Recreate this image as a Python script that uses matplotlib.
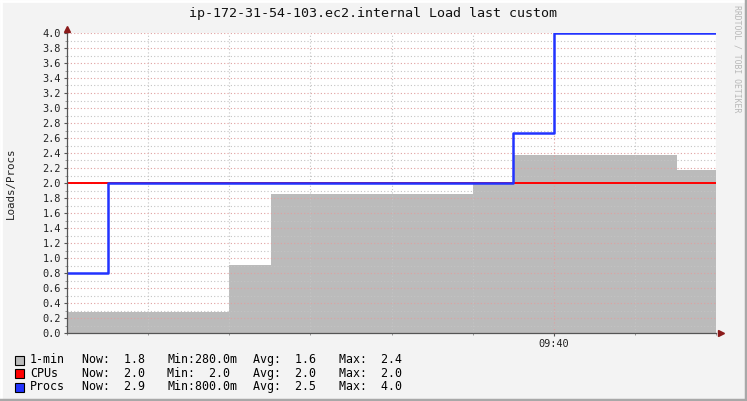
import numpy as np
import matplotlib
matplotlib.use("Agg")
import matplotlib.pyplot as plt
from matplotlib.ticker import MultipleLocator, FuncFormatter
from matplotlib.lines import Line2D
from matplotlib.patches import Rectangle

# time in minutes relative to 09:40
load_t = [-6.0, -4.0, -3.48, -0.99, -0.49, 1.52, 2.0]
load_v = [0.28, 0.907, 1.853, 2.0, 2.373, 2.17, 2.17]
cpus_t = [-6.0, 2.0]
cpus_v = [2.0, 2.0]
procs_t = [-6.0, -5.5, -0.5, 0.0, 2.0]
procs_v = [0.8, 2.0, 2.667, 4.0, 4.0]

legend_names = ["1-min", "CPUs", "Procs"]
legend_colors = ["#BBBBBB", "#FF0000", "#2233FF"]
legend_now = ["Now:  1.8", "Now:  2.0", "Now:  2.9"]
legend_min = ["Min:280.0m", "Min:  2.0", "Min:800.0m"]
legend_avg = ["Avg:  1.6", "Avg:  2.0", "Avg:  2.5"]
legend_max = ["Max:  2.4", "Max:  2.0", "Max:  4.0"]

W, H = 747, 401
fig = plt.figure(figsize=(W / 100, H / 100), dpi=100)
fig.patch.set_facecolor("#F3F3F3")
mono = "DejaVu Sans Mono"

def px(x, y):
    return x / W, 1 - y / H

# 3d-ish frame
fig.add_artist(Line2D([0, 1], [1 - 1 / H, 1 - 1 / H], color="#FFFFFF", lw=2, transform=fig.transFigure))
fig.add_artist(Line2D([1 / W, 1 / W], [0, 1], color="#FFFFFF", lw=2, transform=fig.transFigure))
fig.add_artist(Line2D([0, 1], [1.5 / H, 1.5 / H], color="#A8A8A8", lw=2.5, transform=fig.transFigure))
fig.add_artist(Line2D([1 - 1.5 / W, 1 - 1.5 / W], [0, 1], color="#A8A8A8", lw=2.5, transform=fig.transFigure))

ax = fig.add_axes([67 / W, (H - 333) / H, 649 / W, 300 / H])
ax.set_facecolor("white")

ax.fill_between(load_t, load_v, 0, step="post", color="#BBBBBB", lw=0, zorder=2)
ax.step(cpus_t, cpus_v, where="post", color="#FF0000", lw=1.4, zorder=3)
ax.step(procs_t, procs_v, where="post", color="#2233FF", lw=1.8, zorder=4)

ax.set_xlim(-6.0, 2.0)
ax.set_ylim(0, 4.0)

ax.yaxis.set_major_locator(MultipleLocator(0.2))
ax.yaxis.set_minor_locator(MultipleLocator(0.1))
ax.yaxis.set_major_formatter(FuncFormatter(lambda v, p: "%.1f" % v))
ax.xaxis.set_major_locator(MultipleLocator(10))
ax.xaxis.set_minor_locator(MultipleLocator(1))
ax.xaxis.set_major_formatter(FuncFormatter(lambda v, p: "09:%02d" % (40 + int(round(v)))))

ax.set_axisbelow(False)
ax.grid(which="major", color="#E0A0A0", lw=0.8, ls=(0, (1, 2)), zorder=2.5)
ax.grid(which="minor", color="#C4C4C4", lw=0.8, ls=(0, (1, 2)), zorder=2.5)

ax.tick_params(which="major", direction="out", length=2.5, width=0.8, color="#555555",
               labelsize=7.4, labelcolor="#222222", pad=2)
ax.tick_params(which="minor", direction="out", length=1.5, width=0.6, color="#888888")
for lab in ax.get_xticklabels() + ax.get_yticklabels():
    lab.set_family(mono)

for s in ["top", "right"]:
    ax.spines[s].set_visible(False)
for s in ["left", "bottom"]:
    ax.spines[s].set_color("#555555")
    ax.spines[s].set_linewidth(0.9)
    ax.spines[s].set_zorder(5)

# arrows
ax.plot([0], [1.012], marker="^", ms=4, color="#8B1A1A", transform=ax.transAxes, clip_on=False, zorder=6)
ax.plot([1.008], [0], marker=">", ms=4, color="#8B1A1A", transform=ax.transAxes, clip_on=False, zorder=6)

fig.text(*px(373, 14), "ip-172-31-54-103.ec2.internal Load last custom", family=mono,
         fontsize=9.6, ha="center", va="center", color="#111111")
fig.text(*px(11, 183), "Loads/Procs", family=mono, fontsize=7.8, rotation=90,
         ha="center", va="center", color="#222222")
fig.text(*px(737, 59), "RRDTOOL / TOBI OETIKER", family=mono, fontsize=5.9, rotation=-90,
         ha="center", va="center", color="#B8B8B8")

box_y = [360, 373.7, 387.4]
base_y = [363, 376.7, 390.4]
for i in range(3):
    fig.patches.append(Rectangle(px(15, box_y[i] + 4.5), 9 / W, 9 / H, transform=fig.transFigure,
                                 facecolor=legend_colors[i], edgecolor="black", lw=0.8))
    y = base_y[i]
    fig.text(*px(30, y), legend_names[i], family=mono, fontsize=8.4, va="baseline")
    fig.text(*px(82, y), legend_now[i], family=mono, fontsize=8.4, va="baseline")
    fig.text(*px(167, y), legend_min[i], family=mono, fontsize=8.4, va="baseline")
    fig.text(*px(253, y), legend_avg[i], family=mono, fontsize=8.4, va="baseline")
    fig.text(*px(339, y), legend_max[i], family=mono, fontsize=8.4, va="baseline")

fig.savefig("out.png", dpi=100, facecolor=fig.get_facecolor())
